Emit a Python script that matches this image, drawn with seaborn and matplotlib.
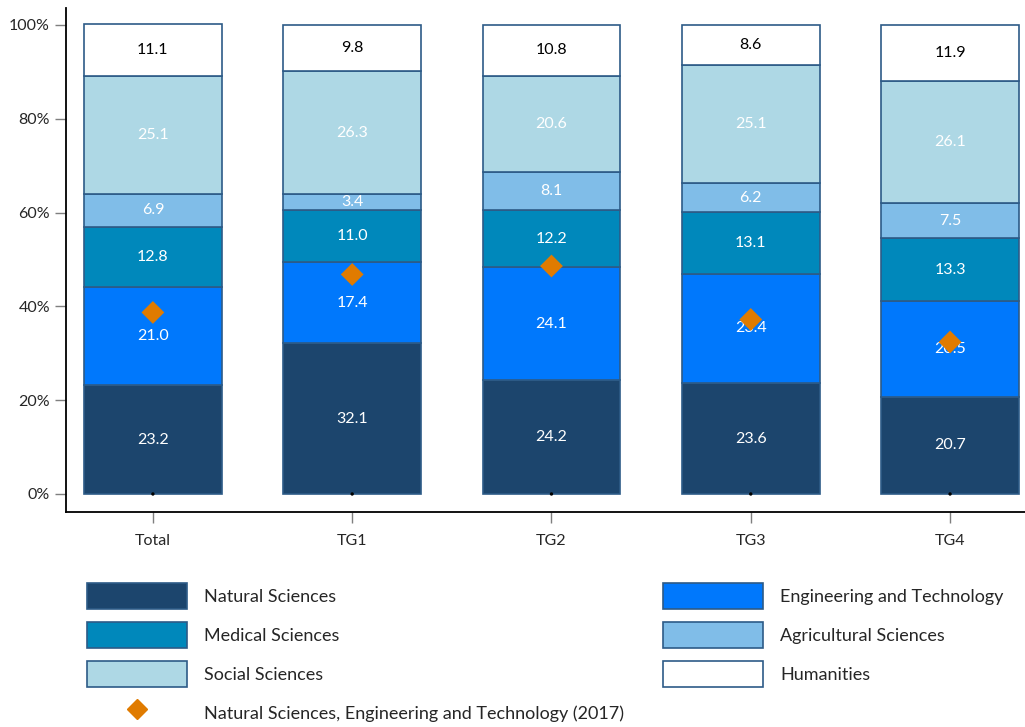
import numpy as np
import pandas as pd
import matplotlib
matplotlib.use("Agg")
import matplotlib.pyplot as plt
import seaborn as sns
from matplotlib.patches import Patch
from matplotlib.lines import Line2D

groups = ["Total", "TG1", "TG2", "TG3", "TG4"]
fields = ["Natural Sciences", "Engineering and Technology", "Medical Sciences",
          "Agricultural Sciences", "Social Sciences", "Humanities"]
natural = [23.2, 32.1, 24.2, 23.6, 20.7]
engineering = [21.0, 17.4, 24.1, 23.4, 20.5]
medical = [12.8, 11.0, 12.2, 13.1, 13.3]
agricultural = [6.9, 3.4, 8.1, 6.2, 7.5]
social = [25.1, 26.3, 20.6, 25.1, 26.1]
humanities = [11.1, 9.8, 10.8, 8.6, 11.9]
nset_2017 = [38.7, 46.8, 48.6, 37.2, 32.4]

colors = ["#1c456d", "#0078fc", "#0088bb", "#80bde8", "#aed8e5", "#ffffff"]
text_colors = ["white", "white", "white", "white", "white", "black"]
edge = "#2d5b87"

sns.set_style("white")
plt.rcParams["font.family"] = ["Lato", "DejaVu Sans"]

df = pd.DataFrame({"group": groups, fields[0]: natural, fields[1]: engineering,
                   fields[2]: medical, fields[3]: agricultural,
                   fields[4]: social, fields[5]: humanities, "nset": nset_2017})

fig = plt.figure(figsize=(10.25, 7.27), dpi=100)
ax = fig.add_axes([66 / 1025, 1 - 512 / 727, 1 - 66 / 1025, (512 - 8) / 727])

bottom = np.zeros(len(groups))
for f, c, tc in zip(fields, colors, text_colors):
    sns.barplot(data=df, x="group", y=f, bottom=bottom, color=c, width=0.69,
                edgecolor=edge, linewidth=1.2, saturation=1, ax=ax)
    for i, v in enumerate(df[f]):
        ax.text(i, bottom[i] + v / 2, f"{v:.1f}", ha="center", va="center",
                color=tc, fontsize=11.5)
    bottom = bottom + df[f].values

sns.scatterplot(data=df, x="group", y="nset", marker="D", s=135, color="#e07b00",
                edgecolor="none", ax=ax, zorder=5)
sns.scatterplot(x=groups, y=[0] * len(groups), marker="o", s=6, color="black",
                edgecolor="none", ax=ax, zorder=5)

ax.set_xlim(-0.436, 4.376)
ax.set_ylim(-3.84, 103.6)
ax.set_yticks([0, 20, 40, 60, 80, 100])
ax.set_yticklabels(["0%", "20%", "40%", "60%", "80%", "100%"])
ax.set_xlabel("")
ax.set_ylabel("")
for s in ["top", "right"]:
    ax.spines[s].set_visible(False)
for s in ["left", "bottom"]:
    ax.spines[s].set_color("black")
    ax.spines[s].set_linewidth(1.3)
ax.tick_params(axis="both", length=8, width=1, color="#7f7f7f",
               labelsize=11.5, labelcolor="#262626", direction="out")
ax.tick_params(axis="x", pad=8)
ax.tick_params(axis="y", left=True)
ax.tick_params(axis="x", bottom=True)

handles = [Patch(facecolor=c, edgecolor=edge, linewidth=1.2) for c in colors]
diamond = Line2D([], [], marker="D", color="#e07b00", linestyle="none", markersize=10)

leg_kw = dict(frameon=False, fontsize=13, handlelength=5.54, handleheight=1.84,
              labelspacing=0.72, handletextpad=0.94, borderaxespad=0, borderpad=0)
leg1 = fig.legend([handles[0], handles[2], handles[4], diamond],
                  [fields[0], fields[2], fields[4],
                   "Natural Sciences, Engineering and Technology (2017)"],
                  loc="upper left", bbox_to_anchor=(87 / 1025, 1 - 583 / 727), **leg_kw)
leg2 = fig.legend([handles[1], handles[3], handles[5]],
                  [fields[1], fields[3], fields[5]],
                  loc="upper left", bbox_to_anchor=(663 / 1025, 1 - 583 / 727), **leg_kw)

fig.savefig("out.png", dpi=100)
